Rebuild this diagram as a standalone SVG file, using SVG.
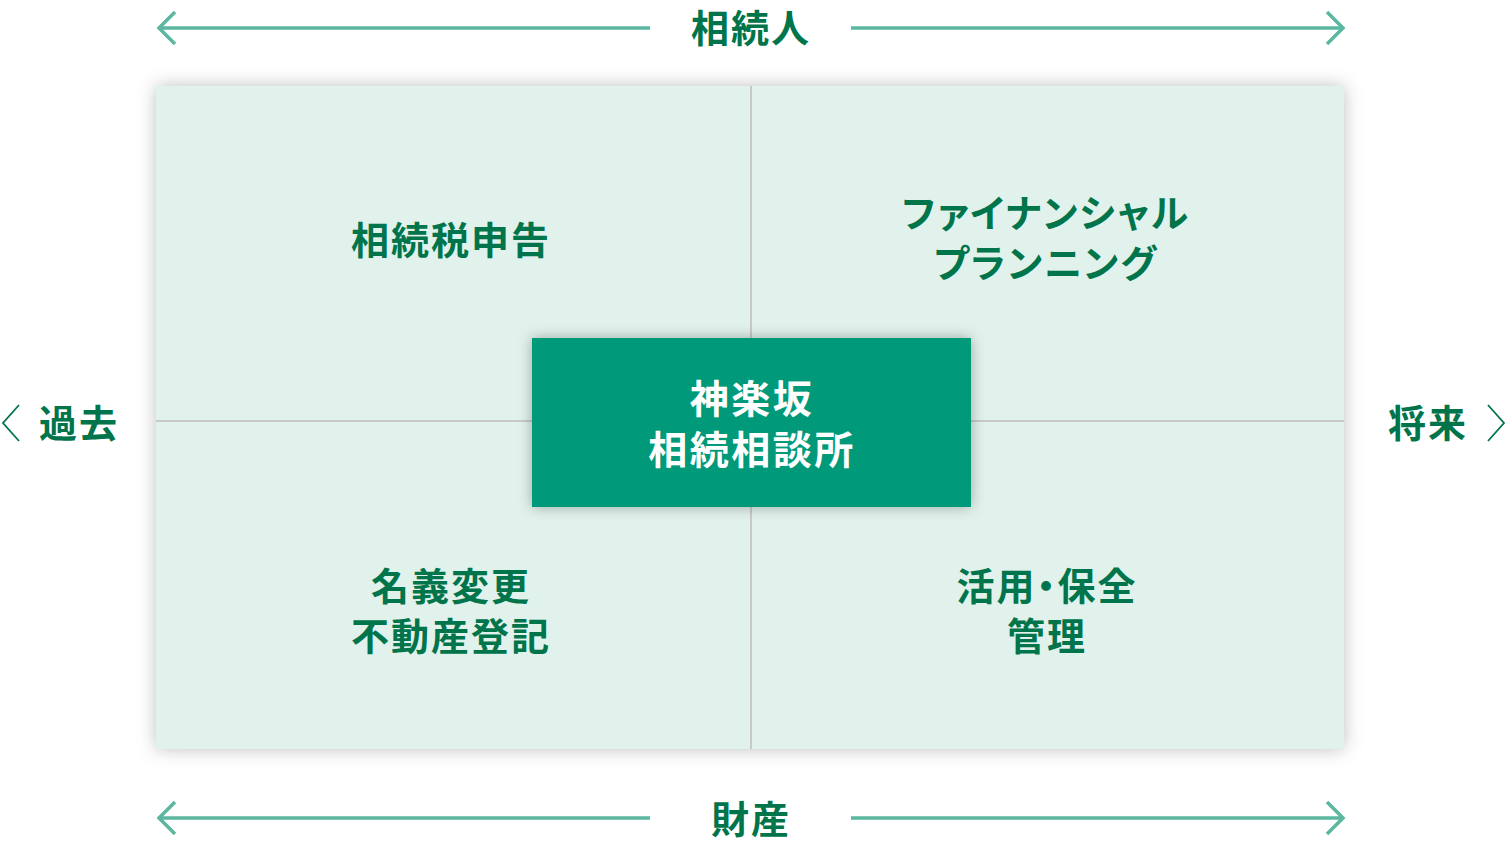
<svg xmlns="http://www.w3.org/2000/svg" width="1506" height="842" viewBox="0 0 1506 842">
<defs>
<filter id="sh" x="-10%" y="-10%" width="120%" height="120%">
<feDropShadow dx="0" dy="0" stdDeviation="9" flood-color="#000" flood-opacity="0.25"/>
</filter>
<filter id="sh2" x="-20%" y="-30%" width="140%" height="160%">
<feDropShadow dx="0" dy="0" stdDeviation="7" flood-color="#000" flood-opacity="0.3"/>
</filter>
<style>
.t{font-family:"Noto Sans CJK JP","Noto Sans",sans-serif;font-weight:700;font-size:38px;fill:#00744a;text-anchor:middle;letter-spacing:2px}
.k{font-feature-settings:"palt";letter-spacing:2px}
.w{fill:#ffffff;font-size:39px;letter-spacing:2.5px}
.ax{stroke:#5bb79f;stroke-width:3.5;fill:none;stroke-linecap:butt}
.ch{stroke:#00744a;stroke-width:1.8;fill:none}
.grid{stroke:#c9c9c9;stroke-width:2}
</style>
</defs>
<rect width="1506" height="842" fill="#ffffff"/>
<g id="matrix">
<rect x="156" y="86" width="1188" height="663" fill="#e1f1eb" filter="url(#sh)"/>
<line class="grid" x1="751" y1="86" x2="751" y2="749"/>
<line class="grid" x1="156" y1="421" x2="1344" y2="421"/>
</g>
<g id="connectors">
<line class="ax" x1="159" y1="28" x2="650" y2="28"/>
<polyline class="ax" points="175,12 159,28 175,44"/>
<line class="ax" x1="851" y1="28" x2="1343" y2="28"/>
<polyline class="ax" points="1327,12 1343,28 1327,44"/>
<line class="ax" x1="159" y1="818" x2="650" y2="818"/>
<polyline class="ax" points="175,802 159,818 175,834"/>
<line class="ax" x1="851" y1="818" x2="1343" y2="818"/>
<polyline class="ax" points="1327,802 1343,818 1327,834"/>
<polyline class="ch" points="19,405 3,423 19,441"/>
<polyline class="ch" points="1488,405 1504,423 1488,441"/>
</g>
<g id="label-top"><text class="t" x="751" y="42">相続人</text></g>
<g id="label-bottom"><text class="t" x="751" y="833">財産</text></g>
<g id="label-left"><text class="t" x="79" y="437">過去</text></g>
<g id="label-right"><text class="t" x="1428" y="437">将来</text></g>
<g id="q-tl"><text class="t" x="451" y="254">相続税申告</text></g>
<g id="q-tr"><text class="t k" x="1046" y="227">ファイナンシャル</text><text class="t k" x="1046" y="277">プランニング</text></g>
<g id="q-bl"><text class="t" x="451" y="600">名義変更</text><text class="t" x="451" y="650">不動産登記</text></g>
<g id="q-br"><text class="t k" x="1047" y="600">活用・保全</text><text class="t" x="1047" y="650">管理</text></g>
<g id="center">
<rect x="532" y="338" width="439" height="169" fill="#009a7a" filter="url(#sh2)"/>
<text class="t w" x="752" y="413">神楽坂</text>
<text class="t w" x="752" y="464">相続相談所</text>
</g>
</svg>
